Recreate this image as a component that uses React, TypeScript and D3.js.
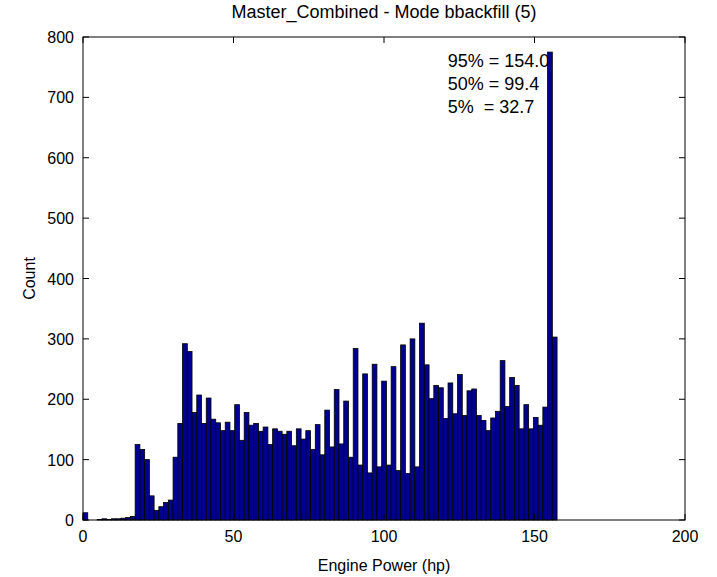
import React, { useRef, useEffect } from 'react';
import * as d3 from 'd3';

// histogram counts, 100 bins from 0 to 157.5 hp
const counts: number[] = [
  12, 0, 0, 1, 2, 1, 2, 2, 3, 4,
  6, 125, 117, 100, 40, 16, 22, 29, 33, 104,
  160, 292, 279, 178, 207, 160, 202, 167, 161, 148,
  162, 148, 191, 132, 178, 157, 160, 147, 154, 125,
  151, 147, 142, 147, 123, 151, 134, 148, 117, 158,
  108, 182, 121, 216, 126, 197, 104, 284, 91, 242,
  78, 258, 88, 230, 91, 254, 82, 290, 77, 300,
  88, 326, 257, 201, 223, 219, 168, 227, 176, 241,
  173, 214, 217, 173, 165, 148, 169, 180, 264, 188,
  236, 223, 151, 191, 151, 170, 157, 187, 775, 303,
];
const binMax = 157.5;
const xTicks = [0, 50, 100, 150, 200];
const yTicks = [0, 100, 200, 300, 400, 500, 600, 700, 800];
const titleText = 'Master_Combined - Mode bbackfill (5)';
const xLabel = 'Engine Power (hp)';
const yLabel = 'Count';
const stats = ['95% = 154.0', '50% = 99.4', '5%  = 32.7'];

export default function App() {
  const ref = useRef<SVGSVGElement | null>(null);

  useEffect(() => {
    if (!ref.current) return;
    const svg = d3.select(ref.current);
    svg.selectAll('*').remove();

    const width = 717, height = 577;
    const left = 83, right = 685, top = 37, bottom = 520;
    const font = 'Liberation Sans, Arial, sans-serif';

    const x = d3.scaleLinear().domain([0, 200]).range([left, right]);
    const y = d3.scaleLinear().domain([0, 800]).range([bottom, top]);
    const binW = binMax / counts.length;

    svg.append('rect').attr('width', width).attr('height', height).attr('fill', '#fff');

    // percentile text (bars overlap it)
    svg.append('g').selectAll('text')
      .data(stats)
      .join('text')
      .attr('x', x(121.2))
      .attr('y', (d, i) => 67 + i * 23)
      .attr('font-family', font)
      .attr('font-size', 18)
      .style('white-space', 'pre')
      .text(d => d);

    // bars
    svg.append('g').selectAll('rect')
      .data(counts)
      .join('rect')
      .attr('x', (d, i) => x(i * binW))
      .attr('width', (d, i) => x((i + 1) * binW) - x(i * binW))
      .attr('y', d => y(d))
      .attr('height', d => y(0) - y(d))
      .attr('fill', '#00008f')
      .attr('stroke', '#000')
      .attr('stroke-width', 0.8);

    // box
    svg.append('rect')
      .attr('x', left).attr('y', top)
      .attr('width', right - left).attr('height', bottom - top)
      .attr('fill', 'none').attr('stroke', '#000').attr('stroke-width', 1);

    const tk = 6;
    const g = svg.append('g').attr('stroke', '#000').attr('stroke-width', 1);
    xTicks.forEach(t => {
      g.append('line').attr('x1', x(t)).attr('x2', x(t)).attr('y1', bottom).attr('y2', bottom - tk);
      g.append('line').attr('x1', x(t)).attr('x2', x(t)).attr('y1', top).attr('y2', top + tk);
    });
    yTicks.forEach(t => {
      g.append('line').attr('x1', left).attr('x2', left + tk).attr('y1', y(t)).attr('y2', y(t));
      g.append('line').attr('x1', right).attr('x2', right - tk).attr('y1', y(t)).attr('y2', y(t));
    });

    svg.append('g').selectAll('text')
      .data(xTicks)
      .join('text')
      .attr('x', d => x(d))
      .attr('y', 542)
      .attr('text-anchor', 'middle')
      .attr('font-family', font)
      .attr('font-size', 16)
      .text(d => d);

    svg.append('g').selectAll('text')
      .data(yTicks)
      .join('text')
      .attr('x', 74)
      .attr('y', d => y(d) + 6)
      .attr('text-anchor', 'end')
      .attr('font-family', font)
      .attr('font-size', 16)
      .text(d => d);

    svg.append('text')
      .attr('x', (left + right) / 2).attr('y', 18)
      .attr('text-anchor', 'middle')
      .attr('font-family', font).attr('font-size', 18)
      .text(titleText);

    svg.append('text')
      .attr('x', (left + right) / 2).attr('y', 571)
      .attr('text-anchor', 'middle')
      .attr('font-family', font).attr('font-size', 16)
      .text(xLabel);

    svg.append('text')
      .attr('transform', `translate(35,${(top + bottom) / 2}) rotate(-90)`)
      .attr('text-anchor', 'middle')
      .attr('font-family', font).attr('font-size', 16)
      .text(yLabel);
  }, []);

  return (
    <div style={{ position: 'absolute', left: 0, top: 0 }}>
      <svg ref={ref} width={717} height={577} style={{ display: 'block' }} />
    </div>
  );
}
